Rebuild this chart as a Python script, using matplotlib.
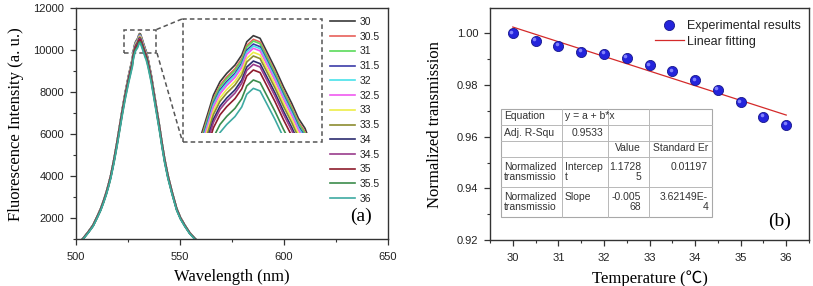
import numpy as np
import matplotlib
matplotlib.use("Agg")
import matplotlib.pyplot as plt
from matplotlib.lines import Line2D
from matplotlib.patches import Rectangle
from matplotlib.transforms import ScaledTranslation

plt.rcParams['font.family'] = ['Liberation Sans', 'DejaVu Sans']

# (a) fluorescence spectra: profile of the 30 degC curve + peak heights per temperature
wavelength = [500, 501.5, 503.4, 505.8, 508.2, 510.1, 511.9, 513.3, 514.6, 515.7, 516.7,
              517.5, 518.3, 519.0, 519.7, 521.0, 522.3, 523.7, 525.3, 527.1,
              527.52, 527.92, 528.22, 528.61, 529.01, 529.50, 529.90, 530.20, 530.59,
              530.99, 531.39, 531.88, 532.38, 532.87, 533.27, 533.66, 533.77,
              534.6, 536.2, 537.5, 538.8, 540.1, 541.3, 542.6, 544.2, 546.2, 548.4,
              550.2, 552.3, 554.6, 557.1, 559.5, 562]
intensity_30 = [700, 850, 1050, 1350, 1685, 2080, 2480, 2870, 3270, 3670, 4065,
                4460, 4860, 5255, 5650, 6445, 7240, 8030, 8825, 9620,
                9950, 10138, 10283, 10399, 10472, 10544, 10631, 10747, 10800,
                10777, 10660, 10516, 10355, 10211, 10080, 9993, 9950,
                9620, 8825, 8030, 7240, 6445, 5650, 4860, 4065, 3270, 2480,
                2050, 1685, 1330, 1050, 820, 650]
temps_a = ['30', '30.5', '31', '31.5', '32', '32.5', '33', '33.5', '34', '34.5', '35', '35.5', '36']
peak_heights = [10800, 10768, 10753, 10727, 10710, 10690, 10655, 10623, 10579, 10550, 10501, 10414, 10341]
colors_a = ['#3a3a3a', '#e8605a', '#5ada5a', '#3c3ca8', '#48e2ea', '#f05af0', '#eeee48',
            '#8c8c30', '#2c2c70', '#9a3c8c', '#8e1c2c', '#3c8c4c', '#3eaaa2']

# (b) normalized transmission vs temperature
temperature = [30, 30.5, 31, 31.5, 32, 32.5, 33, 33.5, 34, 34.5, 35, 35.5, 36]
transmission = [1.0000, 0.9972, 0.9952, 0.9929, 0.9921, 0.9906, 0.9877, 0.9853,
                0.9818, 0.9782, 0.9733, 0.9677, 0.9646]
fit_intercept = 1.17285
fit_slope = -0.00568
table_rows = [
    ['Equation', 'y = a + b*x', '', ''],
    ['Adj. R-Squ', '0.9533', '', ''],
    ['', '', 'Value', 'Standard Er'],
    ['Normalized\ntransmissio', 'Intercep\nt', '1.1728\n5', '0.01197'],
    ['Normalized\ntransmissio', 'Slope', '-0.005\n68', '3.62149E-\n4'],
]

W, H = 813, 286
fig = plt.figure(figsize=(W / 100, H / 100), dpi=100)


def fx(x):
    return x / W


def fy(y):
    return 1 - y / H


def box(x0, y0, x1, y1):
    return [fx(x0), fy(y1), fx(x1) - fx(x0), fy(y0) - fy(y1)]


serif = ['Liberation Serif', 'Noto Sans CJK SC']
tick_kw = dict(direction='out', labelsize=8, colors='#333333', labelcolor='#222222')

# ---------------- panel (a) ----------------
ax1 = fig.add_axes(box(76, 8.3, 388, 239.3))
wl = np.array(wavelength)
base = np.array(intensity_30, dtype=float)
curves = [base * p / peak_heights[0] for p in peak_heights]
for c, col, lab in zip(curves, colors_a, temps_a):
    ax1.plot(wl, c, color=col, lw=1.2, label=lab)
ax1.set_xlim(500, 650)
ax1.set_ylim(1000, 12000)
ax1.set_xticks([500, 550, 600, 650])
ax1.set_xticks([525, 575, 625], minor=True)
ax1.set_yticks([2000, 4000, 6000, 8000, 10000, 12000])
ax1.set_yticks(np.arange(1000, 12000, 1000), minor=True)
ax1.tick_params(which='major', length=4, width=0.9, **tick_kw)
ax1.tick_params(axis='x', pad=5.5)
ax1.tick_params(axis='y', pad=4.5)
ax1.tick_params(which='minor', length=2.5, width=0.8, direction='out', colors='#333333')
for s in ax1.spines.values():
    s.set_color('#333333')
    s.set_linewidth(1.0)
ax1.set_xlabel('Wavelength (nm)', family=serif, fontsize=12, labelpad=5)
ax1.set_ylabel('Fluorescence Intensity (a. u.)', family=serif, fontsize=12, labelpad=7)
fig.text(fx(361), fy(216), '(a)', family=serif, fontsize=14, ha='center', va='center')

leg1 = ax1.legend(loc='upper left', bbox_to_anchor=(fx(330), fy(17)), bbox_transform=fig.transFigure,
                  frameon=False, fontsize=7.5, handlelength=2.4, handletextpad=0.4,
                  labelspacing=0.455, borderpad=0, borderaxespad=0)
for t in leg1.get_texts():
    t.set_color('#222222')

# zoom box, connectors and inset
dash = dict(color='#555555', lw=1.1, ls=(0, (3, 2)))
ax1.add_patch(Rectangle((523, 9850), 15.6, 1110, fill=False, **dash))
fig.add_artist(Line2D([fx(156.5), fx(182)], [fy(29.5), fy(19)], transform=fig.transFigure, **dash))
fig.add_artist(Line2D([fx(157), fx(182)], [fy(53), fy(140)], transform=fig.transFigure, **dash))
fig.add_artist(Rectangle((fx(183), fy(142)), fx(322) - fx(183), fy(19) - fy(142),
                         transform=fig.transFigure, fill=False, **dash))

axin = fig.add_axes(box(183, 19, 322, 133.3))
for c, col in zip(curves, colors_a):
    axin.plot(wl, c, color=col, lw=1.2)
axin.set_xlim(526.41, 534.67)
axin.set_ylim(9950, 10945)
axin.axis('off')

# ---------------- panel (b) ----------------
ax2 = fig.add_axes(box(490, 8.3, 809, 240))
tt = np.array(temperature)
ax2.plot(tt, transmission, 'o', ms=7.3, mfc='#2424dc', mec='#18188c', mew=0.6,
         label='Experimental results', zorder=3)
shine = ax2.transData + ScaledTranslation(-1.0 / 72, 1.0 / 72, fig.dpi_scale_trans)
ax2.plot(tt, transmission, 'o', ms=2.6, mfc='#8c8cff', mec='none', alpha=0.9,
         transform=shine, zorder=4)
ax2.plot(tt, fit_intercept + fit_slope * tt, color='#d42a2a', lw=0.9, label='Linear fitting', zorder=2)
ax2.set_xlim(29.5, 36.5)
ax2.set_ylim(0.92, 1.0097)
ax2.set_xticks(range(30, 37))
ax2.set_xticks(np.arange(29.5, 36.6, 0.5), minor=True)
ax2.set_yticks([0.92, 0.94, 0.96, 0.98, 1.00])
ax2.set_yticks(np.arange(0.93, 1.0, 0.02), minor=True)
ax2.yaxis.set_major_formatter(matplotlib.ticker.FormatStrFormatter('%.2f'))
ax2.tick_params(which='major', length=4, width=0.9, **tick_kw)
ax2.tick_params(axis='x', pad=5.5)
ax2.tick_params(axis='y', pad=4.5)
ax2.tick_params(which='minor', length=2.5, width=0.8, direction='out', colors='#333333')
for s in ax2.spines.values():
    s.set_color('#333333')
    s.set_linewidth(1.0)
ax2.set_xlabel('Temperature (℃)', family=serif, fontsize=12, labelpad=5)
ax2.set_ylabel('Normalized transmission', family=serif, fontsize=12, labelpad=10)
fig.text(fx(780), fy(221), '(b)', family=serif, fontsize=14, ha='center', va='center')

leg2 = ax2.legend(loc='upper left', bbox_to_anchor=(fx(655), fy(20)), bbox_transform=fig.transFigure,
                  frameon=False, fontsize=9, handlelength=2.3, handletextpad=0.25,
                  labelspacing=0.3, borderpad=0, borderaxespad=0)
for t in leg2.get_texts():
    t.set_color('#222222')

# fit results table
col_x = [501, 562, 608, 649, 712]
row_y = [109, 125.5, 141, 156.5, 186.5, 217]
right_pad = [0, 5, 8, 4]
fig.add_artist(Rectangle((fx(501), fy(217)), fx(712) - fx(501), fy(109) - fy(217),
                         transform=fig.transFigure, facecolor='white', edgecolor='#a8a8a8', lw=0.8))
for y in row_y[1:-1]:
    fig.add_artist(Line2D([fx(501), fx(712)], [fy(y), fy(y)], transform=fig.transFigure,
                          color='#b8b8b8', lw=0.7))
for x in col_x[1:-1]:
    fig.add_artist(Line2D([fx(x), fx(x)], [fy(109), fy(217)], transform=fig.transFigure,
                          color='#b8b8b8', lw=0.7))
right_cells = {(1, 1), (2, 2), (2, 3), (3, 2), (3, 3), (4, 2), (4, 3)}
for r, row in enumerate(table_rows):
    for c, txt in enumerate(row):
        if not txt:
            continue
        if (r, c) in right_cells:
            x, ha = col_x[c + 1] - right_pad[c], 'right'
        else:
            x, ha = col_x[c] + 3, 'left'
        dy = 5 if r >= 3 else 2
        fig.text(fx(x), fy(row_y[r] + dy), txt, fontsize=7.5, color='#333333', ha=ha, va='top',
                 linespacing=1.05)

fig.savefig('out.png', dpi=100)
